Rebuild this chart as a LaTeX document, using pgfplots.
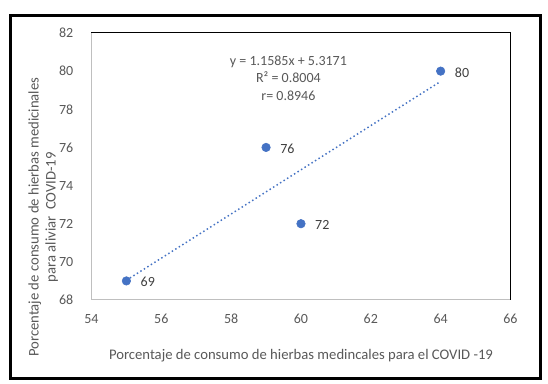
\documentclass[border=0pt]{standalone}
\usepackage{pgfplots}
\pgfplotsset{compat=1.18}
\usepackage{fontspec}
\setmainfont{Carlito}
\definecolor{ptblue}{HTML}{4472C4}
\definecolor{txtgray}{HTML}{595959}
\definecolor{lblgray}{HTML}{404040}
\definecolor{axgray}{HTML}{BFBFBF}
\begin{document}
\begin{tikzpicture}
\path[fill=white] (0pt,0pt) rectangle (411pt,288pt);
\draw[line width=2.25pt] (7.5pt,4.35pt) rectangle (405.2pt,276.5pt);
\begin{axis}[
  at={(68.6pt,63pt)}, anchor=south west,
  scale only axis, width=314.25pt, height=200.25pt,
  xmin=54, xmax=66, ymin=68, ymax=82,
  xtick={54,56,...,66}, ytick={68,70,...,82},
  major tick length=0pt,
  axis line style={draw=none},
  /pgf/number format/assume math mode=true,
  tick label style={font=\fontsize{10.5}{12}\selectfont, text=txtgray},
  xticklabel style={inner sep=0pt, anchor=center, yshift=-14.25pt},
  yticklabel style={inner sep=0pt, anchor=east, xshift=-13.5pt},
  xlabel={Porcentaje de consumo de hierbas medincales para el COVID -19},
  xlabel style={font=\fontsize{11}{13}\selectfont, text=txtgray, at={(axis description cs:0.5,-0.21)}, anchor=center},
  ylabel={Porcentaje de consumo de hierbas medicinales\\para aliviar \ COVID-19},
  ylabel style={font=\fontsize{11}{12.75}\selectfont, text=txtgray, align=center, at={(axis description cs:-0.115,0.31)}, anchor=center},
  clip=false,
]
\draw[axgray, line width=0.75pt] (rel axis cs:0,1) -- (rel axis cs:0,0) -- (rel axis cs:1,0);
\draw[black, line width=0.75pt] (rel axis cs:0,1) -- (rel axis cs:1,1) -- (rel axis cs:1,0);
\addplot[ptblue, line width=1.1pt, dotted] coordinates {(55,69.0346) (64,79.4611)};
\addplot[only marks, mark=*, mark size=3.2pt, mark options={fill=ptblue, draw=ptblue},
  nodes near coords, point meta=explicit symbolic,
  every node near coord/.append style={anchor=west, inner sep=0pt, xshift=10.5pt, yshift=-1pt, text=lblgray, font=\fontsize{10.5}{12}\selectfont}]
  table[meta=l] {
x y l
55 69 69
59 76 76
60 72 72
64 80 80
};
\node[align=center, text=txtgray, font=\fontsize{10.5}{13}\selectfont] at (axis cs:59.64,79.64) {y = 1.1585x + 5.3171\\R² = 0.8004\\r= 0.8946};
\end{axis}
\end{tikzpicture}
\end{document}
